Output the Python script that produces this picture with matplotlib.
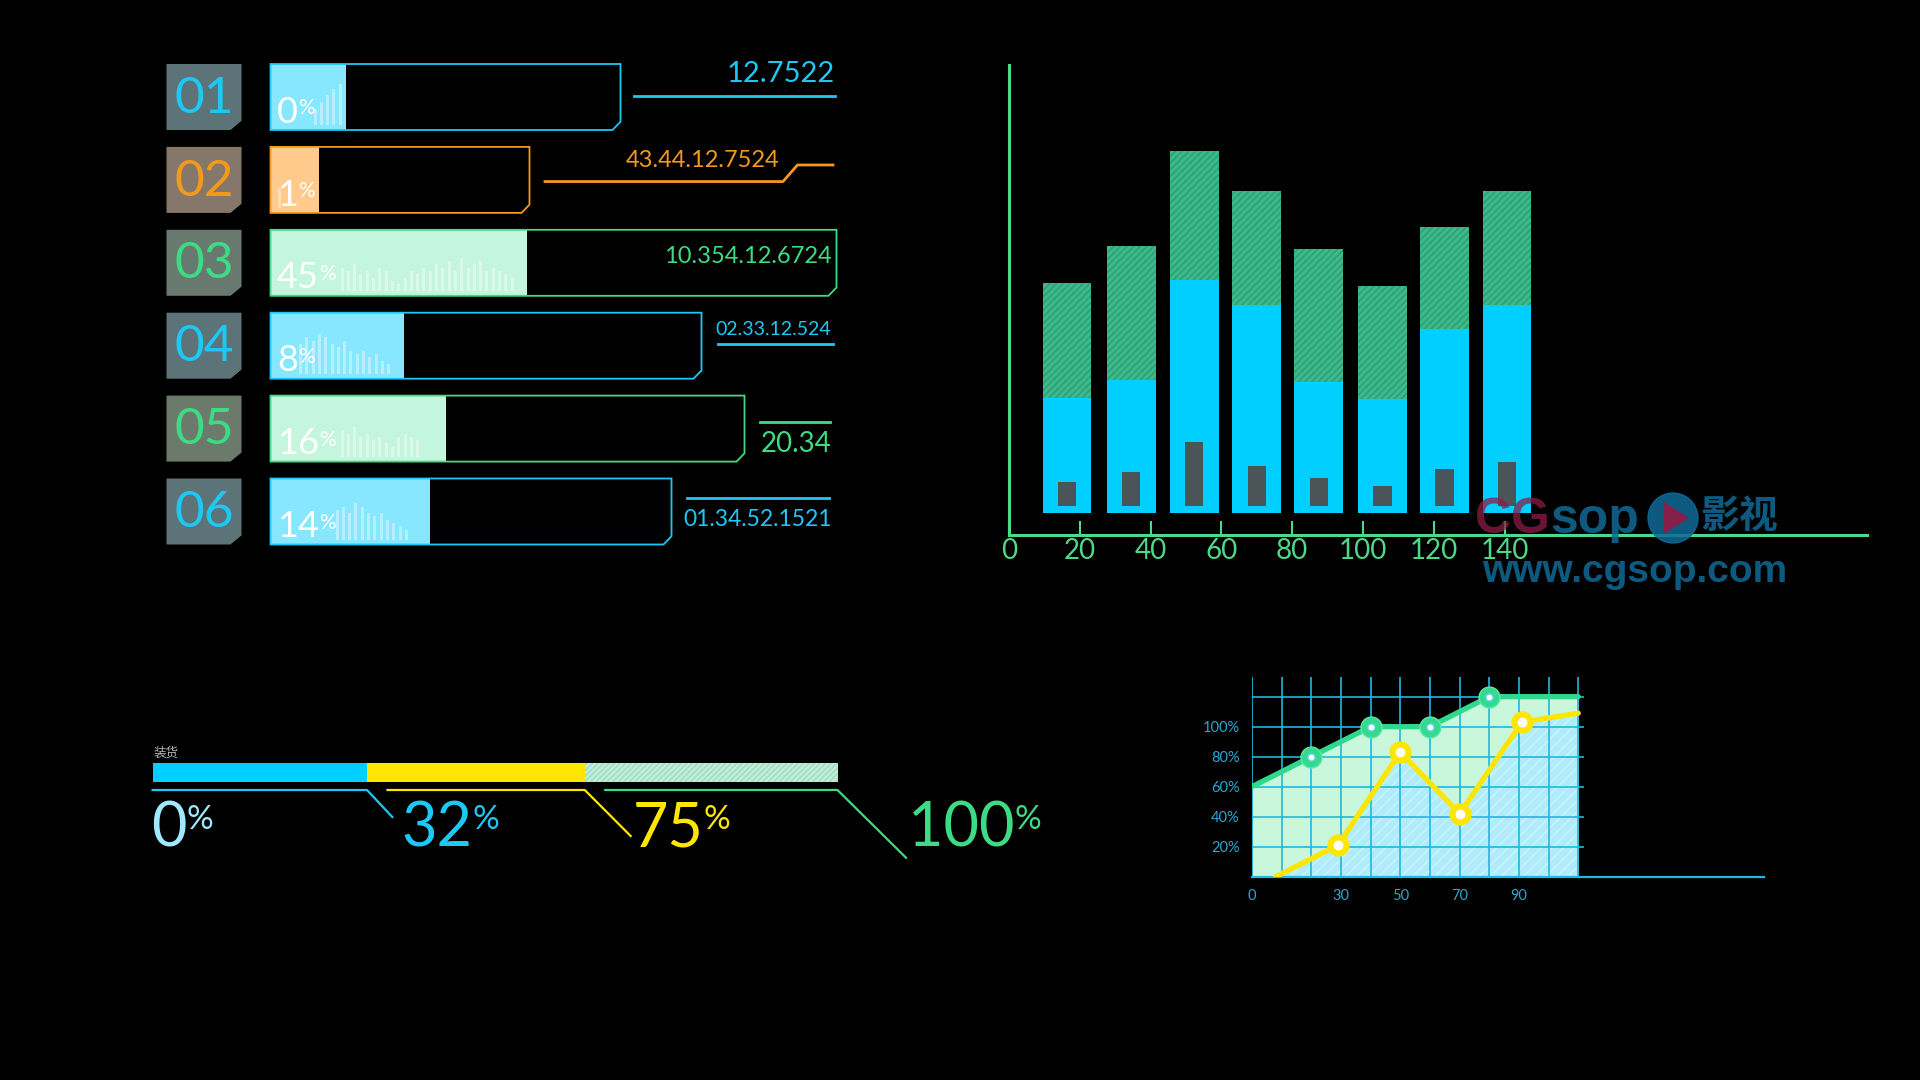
import numpy as np
import matplotlib.pyplot as plt
from matplotlib.patches import Polygon, Ellipse

plt.rcParams['font.family'] = ['Lato', 'DejaVu Sans']
plt.rcParams['hatch.linewidth'] = 1.2

W, H = 1920, 1080
FW = 'normal'

# --- datos: filas de progreso (izquierda) ---
row_ids = ['01', '02', '03', '04', '05', '06']
row_pct = ['0', '1', '45', '8', '16', '14']
row_fill = [75, 48, 256, 133, 175, 159]        # longitud rellena
row_track = [350, 259, 566, 431, 474, 401]     # longitud del marco
row_values = ['12.7522', '43.44.12.7524', '10.354.12.6724',
              '02.33.12.524', '20.34', '01.34.52.1521']
row_colors = ['#1ec8f5', '#f39a1c', '#3ddc84', '#1ec8f5', '#3ddc84', '#1ec8f5']
fill_colors = ['#86e7ff', '#ffca8c', '#c3f6dc', '#86e7ff', '#c3f6dc', '#86e7ff']
box_colors = ['#5c7378', '#85786a', '#687a70', '#5c7378', '#6c7a6c', '#5c7378']

# mini barras tenues dentro de cada relleno (fraccion de la altura de fila)
spark_1 = [0.25, 0.35, 0.45, 0.55, 0.62]
spark_2 = [0.3]
spark_3 = [0.35, 0.3, 0.4, 0.25, 0.3, 0.2, 0.35, 0.3, 0.15, 0.1, 0.2, 0.3, 0.25, 0.35,
           0.3, 0.4, 0.35, 0.45, 0.3, 0.5, 0.35, 0.4, 0.45, 0.3, 0.35, 0.3, 0.25, 0.2]
spark_4 = [0.45, 0.55, 0.5, 0.6, 0.55, 0.45, 0.4, 0.5, 0.35, 0.3, 0.35, 0.25, 0.3, 0.2, 0.15]
spark_5 = [0.4, 0.35, 0.45, 0.3, 0.35, 0.25, 0.3, 0.2, 0.15, 0.3, 0.35, 0.3, 0.25]
spark_6 = [0.45, 0.5, 0.4, 0.55, 0.5, 0.4, 0.35, 0.4, 0.3, 0.25, 0.2, 0.15]
spark_start = [44.5, 9, 71.5, 30, 71.5, 66.5]

# --- datos: barras apiladas (arriba derecha) ---
bar_x = [16.4, 34.5, 52.3, 70, 87.5, 105.5, 123, 140.7]
bar_total = [75.5, 86.7, 115.3, 103.2, 85.7, 74.7, 92.5, 103.1]
bar_blue = [41, 46.5, 76.5, 69, 46, 40.7, 61.7, 68.9]
bar_dark = [15.8, 19.0, 27.8, 20.7, 17.0, 14.8, 19.9, 21.8]
bar_ticks = [0, 20, 40, 60, 80, 100, 120, 140]

# --- datos: barra de carga (abajo izquierda) ---
load_label = '装货'
load_edges = [0, 31.3, 63.1, 100]
load_texts = ['0', '32', '75', '100']

# --- datos: grafico de lineas (abajo derecha) ---
green_x = [0, 20, 40, 60, 80, 110]
green_y = [60, 80, 100, 100, 120, 120]
yellow_x = [8, 29, 50, 70, 91, 110]
yellow_y = [0, 21, 83, 42, 103, 109]
line_xticks = [0, 30, 50, 70, 90]
line_yticks = [20, 40, 60, 80, 100]

CYAN, YELLOW, GREEN = '#1ec8f5', '#ffe600', '#3ddc84'


def px_axes(x0, y0, x1, y1):
    ax = fig.add_axes([x0 / W, 1 - y1 / H, (x1 - x0) / W, (y1 - y0) / H])
    ax.set_facecolor('none')
    return ax


def add_pct(ax, x, y, num, color, size, psize, gap=0):
    t = ax.text(x, y, num, color=color, fontsize=size, fontweight=FW,
                va='baseline', ha='left', zorder=4)
    ax.annotate('%', xy=(1, 0.93), xycoords=t, xytext=(gap, 0), textcoords='offset points',
                color=color, fontsize=psize, fontweight=FW, va='top', ha='left', zorder=4)


fig = plt.figure(figsize=(W / 100, H / 100), dpi=100, facecolor='black')

# ================= filas de progreso =================
ax = px_axes(150, 40, 860, 570)
ax.set_xlim(-120.5, 589.5)
ax.set_ylim((570 - 97) / 82.9, (40 - 97) / 82.9)
ax.axis('off')
h = 0.398
label_pos = [(564, -0.28, 21), (509, -0.23, 17), (561.5, -0.07, 17),
             (560, -0.19, 14), (561.5, 0.19, 20), (561.5, 0.10, 16.5)]
leaders = [[(363, -0.01), (564, -0.01)],
           [(274.5, 0.02), (512.5, 0.02), (527, -0.18), (562.5, -0.18)],
           [],
           [(447.5, -0.02), (562.5, -0.02)],
           [(489, -0.08), (559.5, -0.08)],
           [(416, -0.16), (558, -0.16)]]
sparks = [spark_1, spark_2, spark_3, spark_4, spark_5, spark_6]
for i in range(len(row_ids)):
    c = row_colors[i]
    box = Polygon([(-104, i - h), (-29, i - h), (-29, i + h - 0.11), (-40, i + h), (-104, i + h)],
                  closed=True, facecolor=box_colors[i], edgecolor='none')
    ax.add_patch(box)
    ax.text(-66.5, i + 0.02, row_ids[i], color=c, fontsize=37, fontweight=FW,
            ha='center', va='center')
    ax.barh(i, row_fill[i], height=2 * h, left=0, color=fill_colors[i], zorder=1)
    sx = spark_start[i] + 6.3 * np.arange(len(sparks[i]))
    ax.bar(sx, -2 * h * np.array(sparks[i]), bottom=i + h - 0.06, width=3,
           color='white', alpha=0.4, zorder=2)
    L = row_track[i]
    frame = Polygon([(0, i - h), (L, i - h), (L, i + h - 0.1), (L - 8, i + h), (0, i + h)],
                    closed=True, facecolor='none', edgecolor=c, lw=1.3, zorder=3)
    ax.add_patch(frame)
    add_pct(ax, 6.5, i + 0.31, row_pct[i], 'white', 26, 15)
    xr, dy, fs = label_pos[i]
    ax.text(xr, i + dy, row_values[i], color=c, fontsize=fs, fontweight=FW,
            ha='right', va='center')
    if leaders[i]:
        lx, ly = zip(*leaders[i])
        ax.plot(lx, [i + v for v in ly], color=c, lw=2)

# ================= barras apiladas =================
ax = px_axes(1009, 65, 1867.4, 535)
ax.set_xlim(0, 242.5)
ax.set_ylim(0, 141)
ax.bar(bar_x, np.subtract(bar_blue, 6.5), bottom=6.5, width=13.8, color='#00cfff', zorder=1)
ax.bar(bar_x, np.subtract(bar_total, bar_blue), bottom=bar_blue, width=13.8,
       facecolor='#3cba8c', edgecolor='#2f9f78', hatch='/////', lw=0, zorder=1)
ax.bar(bar_x, np.subtract(bar_dark, 8.7), bottom=8.7, width=5.2, color='#4b5559', zorder=2)
for s in ['top', 'right']:
    ax.spines[s].set_visible(False)
for s in ['left', 'bottom']:
    ax.spines[s].set_color('#4cd98a')
    ax.spines[s].set_linewidth(2.2)
ax.set_yticks([])
ax.set_xticks(bar_ticks)
ax.tick_params(axis='x', direction='in', length=10, width=1.5, color='#4cd98a',
               labelcolor='#4cd98a', labelsize=20, pad=2)
for lab in ax.get_xticklabels():
    lab.set_fontweight(FW)

# ================= barra de carga =================
ax = px_axes(140, 730, 1000, 880)
ax.set_xlim((140 - 152.6) / 6.849, (1000 - 152.6) / 6.849)
ax.set_ylim(880, 730)
ax.axis('off')
ax.text(0.2, 753, load_label, color='#b8b8b8', fontsize=9, va='center', ha='left',
        family=['Noto Sans CJK SC', 'DejaVu Sans'])
seg_colors = ['#00cfff', YELLOW, '#c2f0da']
line_colors = [CYAN, YELLOW, GREEN]
widths = np.diff(load_edges)
for k in range(3):
    if k == 2:
        ax.barh(772.5, widths[k], left=load_edges[k], height=19, facecolor=seg_colors[k],
                edgecolor='#a3dcc2', hatch='//////', lw=0)
    else:
        ax.barh(772.5, widths[k], left=load_edges[k], height=19, color=seg_colors[k])
diag_end = [(35.0, 817), (69.8, 836), (110.0, 857.7)]
for k in range(3):
    start = load_edges[k] + (0 if k == 0 else 3)
    ax.plot([start, load_edges[k + 1], diag_end[k][0]], [790, 790, diag_end[k][1]],
            color=line_colors[k], lw=1.6)
text_x = [-0.2, 36.3, 70.1, 110.3]
text_c = ['#9ee9ff', CYAN, YELLOW, GREEN]
for k in range(4):
    add_pct(ax, text_x[k], 847, load_texts[k], text_c[k], 44, 24)

# ================= grafico de lineas =================
ax = px_axes(1252, 676.7, 1763.6, 876.7)
ax.set_xlim(0, 172.5)
ax.set_ylim(0, 133.3)
ax.fill_between(green_x, green_y, color='#c8f7dc', lw=0, zorder=1)
ax.fill_between(yellow_x, yellow_y, facecolor='#b0ecfb', edgecolor='#c6f3fd',
                hatch='///', lw=0, zorder=1.5)
ax.vlines(np.arange(0, 111, 10), 0, 133.3, color='#1fb8e0', lw=1.2, zorder=2)
ax.hlines(np.arange(20, 121, 20), 0, 112, color='#1fb8e0', lw=1.2, zorder=2)
ax.plot(green_x, green_y, color='#2fd98c', lw=3.8, zorder=3, solid_capstyle='round')
ax.plot(yellow_x, yellow_y, color=YELLOW, lw=3.8, zorder=3, solid_capstyle='round')
ax.plot(green_x[1:5], green_y[1:5], 'o', ms=15, mfc='#33d98e', mec='#5ee8a8', mew=1, zorder=4)
ax.plot(green_x[1:5], green_y[1:5], 'o', ms=5, mfc='white', mec='#6fd4f0', mew=1, zorder=5)
ax.plot(yellow_x[1:5], yellow_y[1:5], 'o', ms=15, mfc=YELLOW, mec=YELLOW, zorder=4)
ax.plot(yellow_x[1:5], yellow_y[1:5], 'o', ms=6, mfc='white', mec='white', zorder=5)
for s in ['top', 'right', 'left']:
    ax.spines[s].set_visible(False)
ax.spines['bottom'].set_color('#1fb8e0')
ax.spines['bottom'].set_linewidth(1.6)
ax.set_xticks(line_xticks)
ax.set_yticks(line_yticks)
ax.set_yticklabels([f'{v}%' for v in line_yticks])
ax.tick_params(length=0, labelcolor='#2aa8d0', labelsize=10.5)
ax.tick_params(axis='x', pad=9)
ax.tick_params(axis='y', pad=9)

# ================= marca de agua =================
wm_blue = '#0f6b98'
cg = fig.text(1475 / W, 1 - 533 / H, 'CG', color='#8c1d48', fontsize=36, fontweight='bold',
              family='Liberation Sans', va='baseline', alpha=0.75)
cg.set_zorder(5)
plt.annotate('sop', xy=(1, 0), xycoords=cg, va='bottom', ha='left', color=wm_blue,
             fontsize=36, fontweight='bold', family='Liberation Sans', alpha=0.85,
             annotation_clip=False)
fig.add_artist(Ellipse((1673 / W, 1 - 518 / H), 50 / W, 50 / H, transform=fig.transFigure,
                       color=wm_blue, alpha=0.85))
fig.add_artist(Polygon([(1664 / W, 1 - 503 / H), (1664 / W, 1 - 533 / H), (1688 / W, 1 - 518 / H)],
                       closed=True, transform=fig.transFigure, color='#8c1d48', alpha=0.95))
fig.text(1700 / W, 1 - 516 / H, '影视', color=wm_blue, fontsize=28, fontweight='bold',
         family=['Noto Sans CJK SC', 'DejaVu Sans'], va='center', alpha=0.85)
fig.text(1482 / W, 1 - 572 / H, 'www.cgsop.com', color=wm_blue, fontsize=28, fontweight='bold',
         family='Liberation Sans', va='center', alpha=0.85)

fig.savefig('out.png', dpi=100, facecolor='black')
